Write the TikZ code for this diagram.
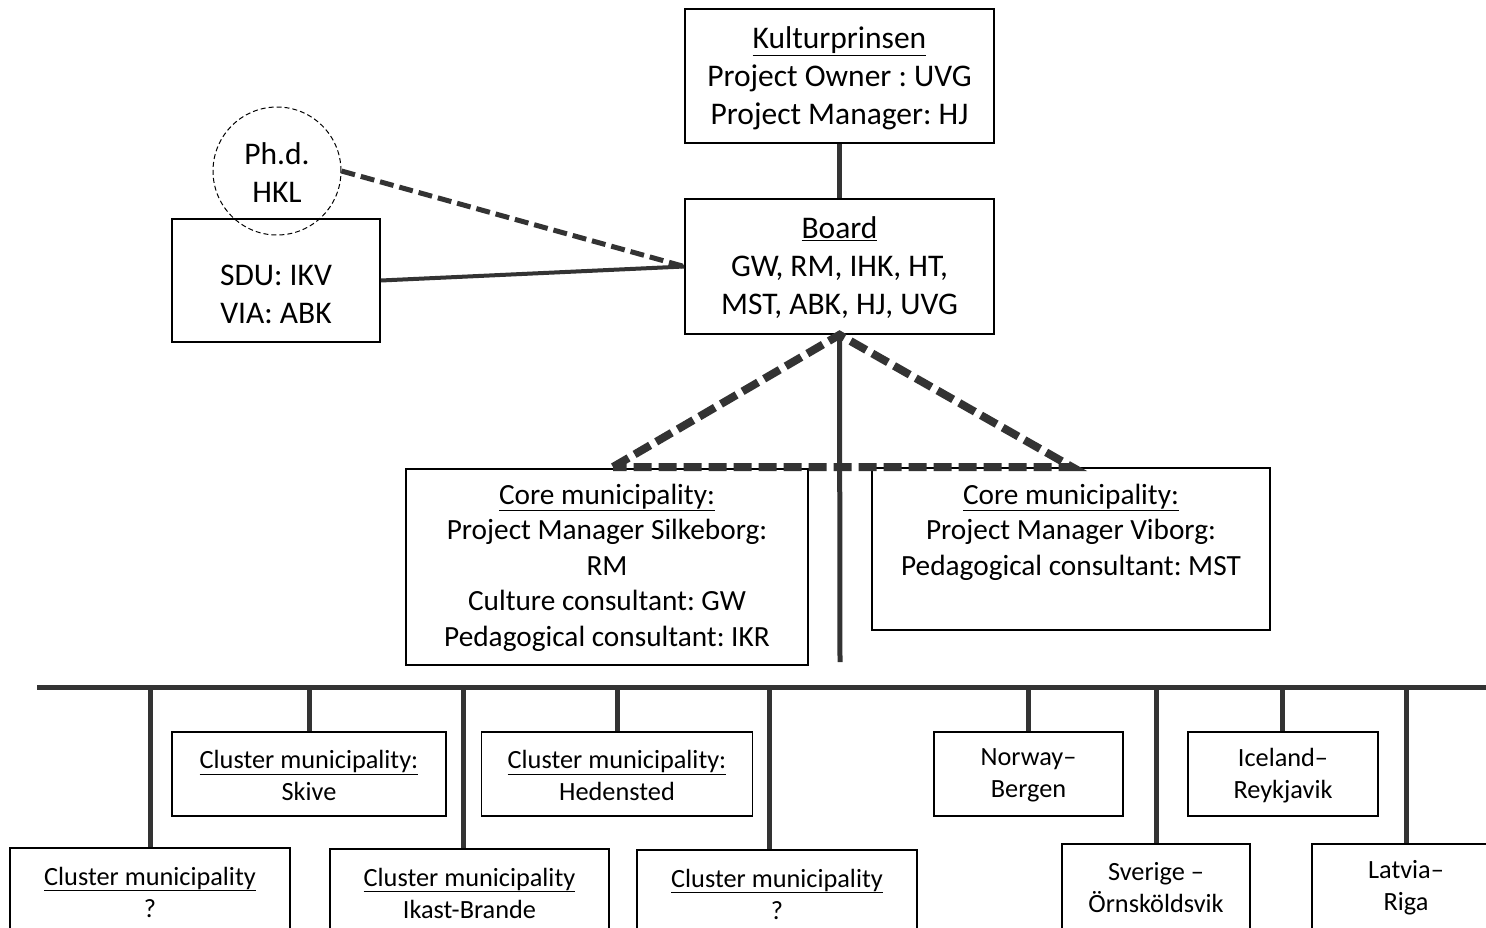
\documentclass[tikz,border=0pt]{standalone}
\usepackage{fontspec}
\setmainfont{Carlito}
\frenchspacing
\begin{document}
\frenchspacing
\begin{tikzpicture}[x=1pt,y=-1pt,
  box/.style={draw=black, line width=1.6pt, inner sep=0pt, rectangle},
  txtA/.style={align=center, font=\fontsize{31.5}{38}\selectfont, inner sep=0pt},
  txtB/.style={align=center, font=\fontsize{29.3}{35.5}\selectfont, inner sep=0pt},
  txtC/.style={align=center, font=\fontsize{26.3}{32}\selectfont, inner sep=0pt},
  conn/.style={draw=black!80, line width=5pt},
  thinconn/.style={draw=black!80, line width=4pt},
  dconn/.style={draw=black!80, line width=8pt, dash pattern=on 18pt off 7pt},
  pconn/.style={draw=black!80, line width=5pt, dash pattern=on 14pt off 6pt},
  circ/.style={draw=black, circle, line width=1pt, dash pattern=on 5pt off 3pt, inner sep=0pt, minimum size=128pt}
]
\useasboundingbox (0,0) rectangle (1486,927);
\clip (0,0) rectangle (1486,927);
\fill[white] (0,0) rectangle (1486,927);

% top boxes
\node[box, minimum width=309pt, minimum height=134pt] (kp) at (839.5,76) {};
\node[txtA] (kpt) at (839.5,78) {\underline{Kulturprinsen}\\Project Owner : UVG\\Project Manager: HJ};
\node[box, minimum width=309pt, minimum height=135pt] (board) at (839.5,266.5) {};
\node[txtA] (boardt) at (839.5,268) {\underline{Board}\\GW, RM, IHK, HT,\\MST, ABK, HJ, UVG};

% left
\node[box, minimum width=208pt, minimum height=123pt] (sdu) at (276,280.5) {};
\node[txtA] (sdut) at (276,294.5) {SDU: IKV\\VIA: ABK};
\node[circ] (phd) at (277,171) {};
\node[txtA] (phdt) at (277,173) {Ph.d.\\HKL};

% core boxes
\node[box, minimum width=402pt, minimum height=196pt] (sil) at (607,567) {};
\node[txtB] (silt) at (607,567.5) {\underline{Core municipality:}\\Project Manager Silkeborg:\\RM\\Culture consultant: GW\\Pedagogical consultant: IKR};
\node[box, minimum width=398pt, minimum height=162pt] (vib) at (1071,549) {};
\node[txtB] (vibt) at (1071,532) {\underline{Core municipality:}\\Project Manager Viborg:\\Pedagogical consultant: MST};

% connectors top
\draw[conn] (kp.south) -- (board.north);
\draw[pconn] (phd.east) -- (board.west);
\draw[thinconn] (sdu.east) -- (board.west);
\coordinate (cl) at (613,467);
\coordinate (cr) at (1072,467);
\draw[dconn, line join=miter] (cl) -- (board.south) -- (cr) -- cycle;
\coordinate (vend) at (840,662);
\draw[conn] (board.south) -- (vend);

% bus
\coordinate (busL) at (37,687);
\coordinate (busR) at (1500,687);
\draw[conn] (busL) -- (busR);

% row 1
\node[box, minimum width=274pt, minimum height=84pt] (skive) at (309,774) {};
\node[txtC] (skivet) at (309,775.5) {\underline{Cluster municipality:}\\Skive};
\node[box, minimum width=271pt, minimum height=84pt] (hed) at (617,774) {};
\node[txtC] (hedt) at (617,775.5) {\underline{Cluster municipality:}\\Hedensted};
\node[box, minimum width=189pt, minimum height=84pt] (nor) at (1028.5,774) {};
\node[txtC] (nort) at (1028.5,775.5) {Norway–\\Bergen};
\node[box, minimum width=190pt, minimum height=84pt] (ice) at (1283,774) {};
\node[txtC] (icet) at (1283,775.5) {Iceland–\\Reykjavik};

% row 2
\node[box, minimum width=280pt, minimum height=120pt] (cq1) at (150,908) {};
\node[txtC] (cq1t) at (150,892) {\underline{Cluster municipality}\\?};
\node[box, minimum width=279pt, minimum height=120pt] (ikast) at (469.5,909) {};
\node[txtC] (ikastt) at (469.5,893) {\underline{Cluster municipality}\\Ikast-Brande};
\node[box, minimum width=280pt, minimum height=120pt] (cq2) at (777,910) {};
\node[txtC] (cq2t) at (777,894) {\underline{Cluster municipality}\\?};
\node[box, minimum width=188pt, minimum height=120pt] (sve) at (1156,904) {};
\node[txtC] (svet) at (1156,887.5) {Sverige –\\Örnsköldsvik};
\node[box, minimum width=188pt, minimum height=120pt] (lat) at (1406,904) {};
\node[txtC] (latt) at (1406,887.5) {Latvia–\\Riga};

% drops
\coordinate (d1) at (150.5,687);
\coordinate (d2) at (309,687);
\coordinate (d3) at (463,687);
\coordinate (d4) at (617,687);
\coordinate (d5) at (769,687);
\coordinate (d6) at (1028,687);
\coordinate (d7) at (1156,687);
\coordinate (d8) at (1282,687);
\coordinate (d9) at (1406,687);
\draw[conn] (d1) -- (d1 |- cq1.north);
\draw[conn] (d2) -- (d2 |- skive.north);
\draw[conn] (d3) -- (d3 |- ikast.north);
\draw[conn] (d4) -- (d4 |- hed.north);
\draw[conn] (d5) -- (d5 |- cq2.north);
\draw[conn] (d6) -- (d6 |- nor.north);
\draw[conn] (d7) -- (d7 |- sve.north);
\draw[conn] (d8) -- (d8 |- ice.north);
\draw[conn] (d9) -- (d9 |- lat.north);
\end{tikzpicture}
\end{document}
